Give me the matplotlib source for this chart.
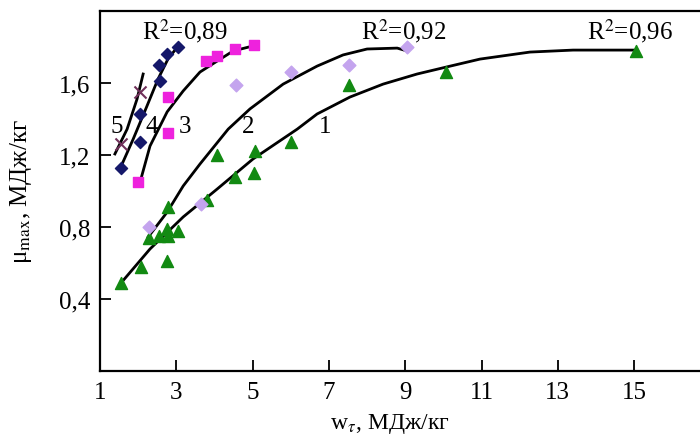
import matplotlib
matplotlib.use('Agg')
from matplotlib import pyplot as plt

plt.rcParams['font.family'] = ['Liberation Serif', 'DejaVu Serif']
plt.rcParams['mathtext.fontset'] = 'stix'

# серія 1 (зелені трикутники)
x1 = [1.55, 2.08, 2.29, 2.55, 2.76, 2.78, 3.05, 2.76, 2.78, 3.81, 4.07, 4.54, 5.04, 5.06, 6.0, 7.53, 10.07, 15.05]
y1 = [0.49, 0.58, 0.74, 0.75, 0.79, 0.75, 0.78, 0.61, 0.91, 0.95, 1.20, 1.08, 1.10, 1.22, 1.27, 1.59, 1.66, 1.78]
# серія 2 (бузкові ромби)
x2 = [2.28, 3.65, 4.57, 6.0, 7.53, 9.05]
y2 = [0.80, 0.93, 1.59, 1.66, 1.70, 1.80]
# серія 3 (пурпурні квадрати)
x3 = [2.0, 2.78, 2.78, 3.78, 4.07, 4.54, 5.04]
y3 = [1.05, 1.32, 1.52, 1.72, 1.75, 1.79, 1.81]
# серія 4 (темно-сині ромби)
x4 = [1.55, 2.05, 2.05, 2.57, 2.55, 2.76, 3.05]
y4 = [1.13, 1.27, 1.43, 1.61, 1.70, 1.76, 1.80]
# серія 5 (хрестики)
x5 = [1.55, 2.05]
y5 = [1.26, 1.55]

# лінії тренду
cx1 = [1.55, 2.31, 3.18, 4.07, 5.01, 6.17, 6.69, 7.55, 8.42, 9.31, 10.18, 10.96, 12.27, 13.40, 14.97]
cy1 = [0.489, 0.678, 0.856, 1.011, 1.178, 1.344, 1.428, 1.522, 1.594, 1.650, 1.694, 1.733, 1.772, 1.783, 1.783]
cx2 = [2.26, 2.76, 3.18, 3.62, 4.36, 4.93, 5.80, 6.69, 7.37, 8.00, 8.79, 9.05]
cy2 = [0.744, 0.883, 1.028, 1.150, 1.344, 1.456, 1.594, 1.694, 1.756, 1.789, 1.794, 1.778]
cx3 = [2.05, 2.31, 2.76, 3.18, 3.62, 4.07, 4.49, 5.01]
cy3 = [1.05, 1.25, 1.44, 1.556, 1.661, 1.722, 1.778, 1.806]
cx4 = [1.52, 1.87, 2.23, 2.52, 2.78, 3.05]
cy4 = [1.122, 1.289, 1.472, 1.622, 1.733, 1.806]
cx5 = [1.39, 1.71, 1.97, 2.13]
cy5 = [1.206, 1.344, 1.511, 1.65]

curve_labels = ['5', '4', '3', '2', '1']
curve_label_x = [1.45, 2.36, 3.23, 4.88, 6.9]
r2_labels = ['R$^2$=0,89', 'R$^2$=0,92', 'R$^2$=0,96']
r2_x = [3.23, 8.95, 14.9]

fig = plt.figure(figsize=(7, 4.39), dpi=100)
ax = fig.add_axes([0.1429, 0.1526, 0.872, 0.820])

for cx, cy in [(cx1, cy1), (cx2, cy2), (cx3, cy3), (cx4, cy4), (cx5, cy5)]:
    ax.plot(cx, cy, color='black', lw=2.0, zorder=2, solid_joinstyle='round')

ax.scatter(x1, y1, marker='^', s=75, color='#128a12', zorder=3)
ax.scatter(x2, y2, marker='D', s=42, color='#c4a4ee', zorder=3)
ax.scatter(x3, y3, marker='s', s=48, color='#ee22dd', zorder=3)
ax.scatter(x4, y4, marker='D', s=38, color='#15186a', zorder=3)
ax.scatter(x5, y5, marker='x', s=75, color='#70305a', linewidths=1.5, zorder=3)

# номери кривих
for lab, xx in zip(curve_labels, curve_label_x):
    ax.text(xx, 1.36, lab, fontsize=18, ha='center', va='center')

for lab, xx in zip(r2_labels, r2_x):
    ax.text(xx, 1.895, lab, fontsize=18, ha='center', va='center')

ax.set_xlim(1, 17)
ax.set_ylim(0, 2.0)
ax.set_xticks([1, 3, 5, 7, 9, 11, 13, 15])
ax.set_yticks([0.4, 0.8, 1.2, 1.6])
ax.set_yticklabels(['0,4', '0,8', '1,2', '1,6'])
ax.tick_params(direction='in', length=8, width=1.3, labelsize=18, pad=7)
for s in ax.spines.values():
    s.set_linewidth(1.6)

ax.set_xlabel('w$_{\\tau}$, МДж/кг', fontsize=17)
ax.xaxis.set_label_coords(0.474, -0.11)
ax.set_ylabel('μ$_{\\mathrm{max}}$, МДж/кг', fontsize=18)
ax.yaxis.set_label_coords(-0.108, 0.5)

fig.savefig('out.png', dpi=100)
